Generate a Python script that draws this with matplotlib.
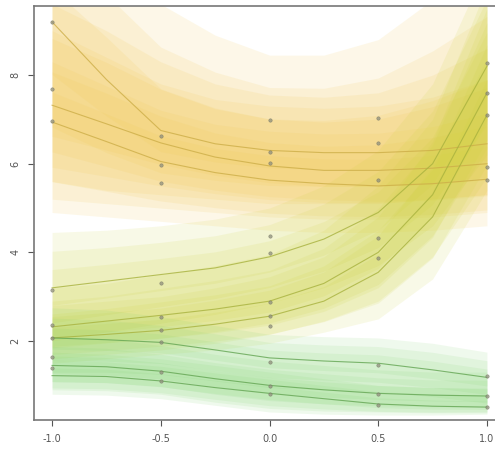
import matplotlib
matplotlib.use('Agg')
import matplotlib.pyplot as plt
import numpy as np

# ==========================================
# DATOS
# ==========================================
x_grid = [-1.0, -0.75, -0.5, -0.25, 0.0, 0.25, 0.5, 0.75, 1.0]

# grupo amarillo (arriba)
yellow_fit = [
    [9.20, 7.90, 6.75, 6.45, 6.30, 6.25, 6.25, 6.30, 6.45],
    [7.32, 6.90, 6.47, 6.15, 5.95, 5.85, 5.85, 5.90, 6.00],
    [6.94, 6.50, 6.05, 5.80, 5.63, 5.55, 5.50, 5.55, 5.65],
]
yellow_lo = [
    [5.60, 5.40, 5.30, 5.20, 5.10, 5.10, 5.10, 5.20, 5.30],
    [5.20, 5.10, 5.00, 4.90, 4.80, 4.75, 4.75, 4.80, 4.90],
    [4.90, 4.80, 4.70, 4.60, 4.50, 4.45, 4.45, 4.50, 4.60],
]
yellow_hi = [
    [11.5, 10.8, 9.60, 8.90, 8.45, 8.45, 8.80, 9.70, 10.8],
    [9.60, 9.00, 8.30, 7.80, 7.55, 7.50, 7.60, 8.00, 8.60],
    [9.00, 8.40, 7.80, 7.45, 7.30, 7.25, 7.30, 7.50, 7.90],
]

# grupo verde-amarillo (sube)
rise_fit = [
    [3.20, 3.35, 3.50, 3.65, 3.90, 4.30, 4.90, 6.00, 8.20],
    [2.32, 2.45, 2.58, 2.72, 2.90, 3.30, 4.00, 5.30, 7.60],
    [2.07, 2.15, 2.24, 2.38, 2.56, 2.90, 3.55, 4.80, 7.10],
]
rise_lo = [
    [2.00, 2.20, 2.40, 2.60, 2.85, 3.20, 3.70, 4.60, 6.20],
    [1.60, 1.70, 1.80, 1.95, 2.15, 2.45, 2.90, 3.90, 5.70],
    [1.50, 1.60, 1.70, 1.80, 1.95, 2.20, 2.50, 3.40, 5.40],
]
rise_hi = [
    [4.45, 4.50, 4.60, 4.75, 5.00, 5.50, 6.30, 7.80, 10.5],
    [3.20, 3.30, 3.50, 3.70, 3.95, 4.50, 5.50, 7.00, 10.0],
    [2.80, 2.90, 3.00, 3.20, 3.45, 3.90, 4.80, 6.50, 9.50],
]

# grupo verde (abajo)
green_fit = [
    [2.07, 2.03, 1.97, 1.80, 1.62, 1.55, 1.50, 1.35, 1.18],
    [1.45, 1.42, 1.32, 1.15, 1.00, 0.90, 0.82, 0.78, 0.76],
    [1.22, 1.20, 1.10, 0.95, 0.82, 0.70, 0.58, 0.53, 0.51],
]
green_lo = [
    [1.30, 1.30, 1.25, 1.10, 0.95, 0.90, 0.85, 0.75, 0.60],
    [0.90, 0.88, 0.80, 0.62, 0.48, 0.42, 0.40, 0.38, 0.38],
    [0.80, 0.78, 0.70, 0.55, 0.40, 0.35, 0.33, 0.33, 0.35],
]
green_hi = [
    [2.75, 2.70, 2.55, 2.35, 2.15, 2.10, 2.07, 1.95, 1.75],
    [2.10, 2.05, 1.90, 1.70, 1.55, 1.45, 1.35, 1.30, 1.30],
    [1.75, 1.70, 1.60, 1.45, 1.30, 1.15, 1.00, 0.95, 0.92],
]

# observaciones
pts_x = ([-1.0] * 8 + [-0.5] * 9 + [0.0] * 11 + [0.5] * 8 + [1.0] * 8)
pts_y = ([9.20, 7.68, 6.96, 3.15, 2.36, 2.07, 1.64, 1.39]
         + [6.62, 5.97, 5.57, 3.30, 2.54, 2.24, 1.97, 1.30, 1.10]
         + [6.99, 6.27, 6.02, 4.37, 3.98, 2.88, 2.56, 2.34, 1.53, 0.98, 0.80]
         + [7.03, 6.47, 5.63, 4.32, 3.87, 1.46, 0.80, 0.55]
         + [8.27, 7.60, 7.10, 5.93, 5.63, 1.21, 0.76, 0.51])

x_ticks = [-1.0, -0.5, 0.0, 0.5, 1.0]
x_labels = ["-1.0", "-0.5", "0.0", "0.5", "1.0"]
y_ticks = [2, 4, 6, 8]

# ==========================================
# GRAFICO
# ==========================================
fig = plt.figure(figsize=(4.95, 4.54), dpi=100)
ax = fig.add_axes([34 / 495, 1 - 420 / 454, 1 - 34 / 495, (420 - 6) / 454])

niveles = [1.0, 0.66, 0.33]
grupos = [
    (yellow_fit, yellow_lo, yellow_hi, '#F2C850', 0.13, '#CDAE48'),
    (rise_fit, rise_lo, rise_hi, '#CCD23A', 0.12, '#A8B23E'),
    (green_fit, green_lo, green_hi, '#80D46E', 0.12, '#63A552'),
]
xg = np.array(x_grid)
for fits, los, his, col, alfa, col_linea in grupos:
    for f, lo, hi in zip(fits, los, his):
        f = np.array(f); lo = np.array(lo); hi = np.array(hi)
        for n in niveles:
            ax.fill_between(xg, f - n * (f - lo), f + n * (hi - f),
                            color=col, alpha=alfa, lw=0)
    for f in fits:
        ax.plot(xg, f, color=col_linea, lw=0.8, alpha=0.8)

ax.scatter(pts_x, pts_y, s=6, color='#90907c', edgecolors='#757565',
           linewidths=0.4, zorder=5, alpha=0.75)

ax.set_xlim(-1.083, 1.037)
ax.set_ylim(0.219, 9.558)
ax.set_xticks(x_ticks)
ax.set_xticklabels(x_labels)
ax.set_yticks(y_ticks)
ax.set_yticklabels([str(v) for v in y_ticks], rotation=90, va='center')
ax.tick_params(axis='both', labelsize=7, colors='#555555', length=4, width=0.8)
ax.tick_params(axis='x', pad=6)
ax.tick_params(axis='y', pad=6)
for s in ['left', 'bottom', 'top']:
    ax.spines[s].set_color('#777777')
    ax.spines[s].set_linewidth(1.2)
ax.spines['right'].set_visible(False)

plt.savefig('out.png', dpi=100)
plt.close()
